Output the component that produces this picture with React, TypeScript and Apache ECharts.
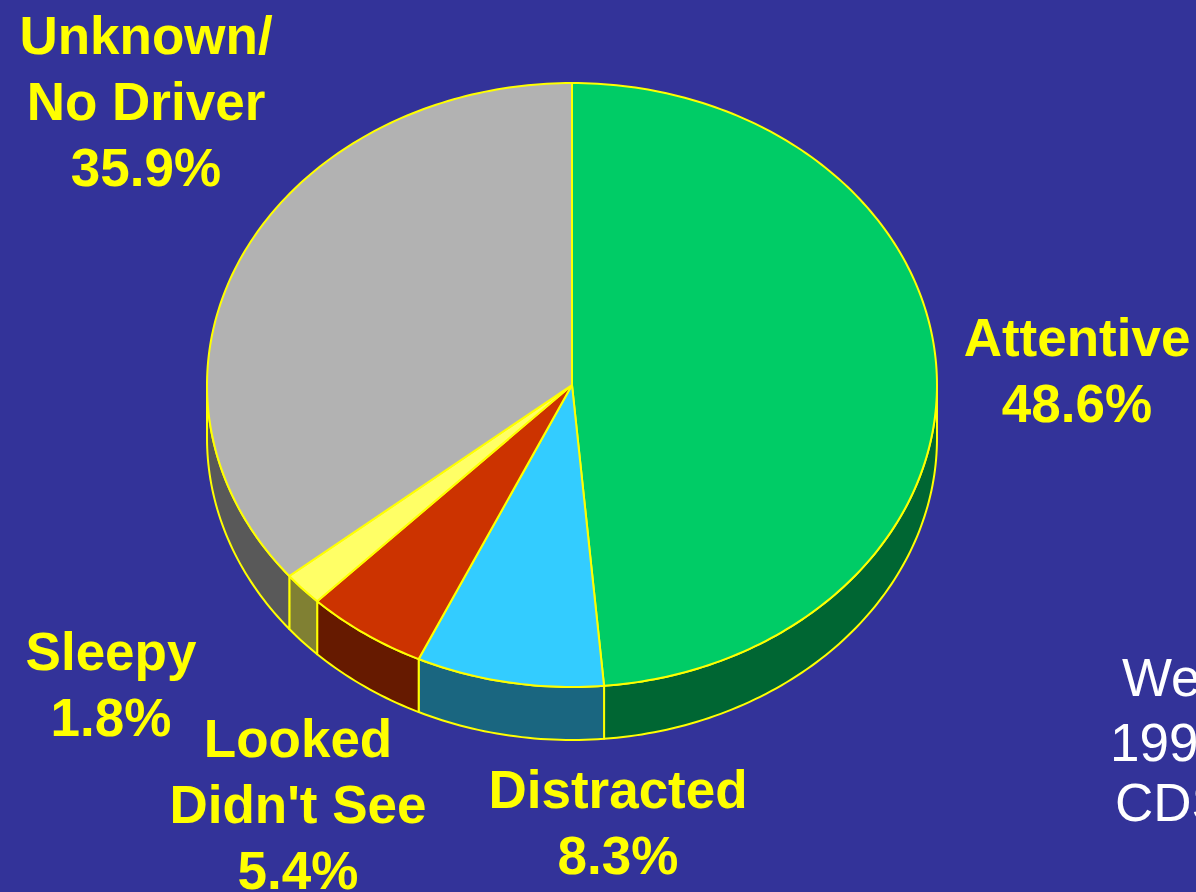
import React, { useEffect, useRef } from "react";
import * as echarts from "echarts";

// ---- data ----
const categories = ["Attentive", "Distracted", "Looked\nDidn't See", "Sleepy", "Unknown/\nNo Driver"];
const shares = [48.6, 8.3, 5.4, 1.8, 35.9];
const noteLines = ["We", "199", "CDS"];

// ---- styles / layout ----
const topColors = ["#00CC66", "#33CCFF", "#CC3300", "#FFFF66", "#B2B2B2"];
const sideColors = ["#006633", "#1A6680", "#661A00", "#808033", "#595959"];
const labelCenters: number[][] = [
  [1077, 370],
  [618, 822],
  [298, 804],
  [111, 684],
  [146, 101],
];
const notePos: number[][] = [
  [1122, 677],
  [1110, 742],
  [1115, 802],
];
const CX = 572;
const CY = 385;
const RX = 365;
const RY = 302;
const DEPTH = 53;
const EDGE = "#FFFF00";

export default function App() {
  const ref = useRef<HTMLDivElement>(null);

  useEffect(() => {
    if (!ref.current) return;
    const chart = echarts.init(ref.current, undefined, { renderer: "svg" });
    const total = shares.reduce((a, b) => a + b, 0);
    let acc = 0;
    const data = shares.map((v, i) => {
      const d = { name: categories[i], value: [v, acc] };
      acc += v;
      return d;
    });

    const pt = (a: number, dy = 0) => [CX + RX * Math.sin(a), CY - RY * Math.cos(a) + dy];

    const renderItem = (params: any, api: any) => {
      const i = params.dataIndex;
      const value = api.value(0) as number;
      const start = api.value(1) as number;
      const a0 = (start / total) * Math.PI * 2;
      const a1 = ((start + value) / total) * Math.PI * 2;
      const children: any[] = [];
      const s0 = Math.max(a0, Math.PI / 2);
      const s1 = Math.min(a1, (Math.PI * 3) / 2);
      if (s1 > s0) {
        const n = Math.max(2, Math.ceil(((s1 - s0) * 180) / Math.PI));
        const up: number[][] = [];
        const down: number[][] = [];
        for (let k = 0; k <= n; k++) {
          const a = s0 + ((s1 - s0) * k) / n;
          up.push(pt(a));
          down.push(pt(a, DEPTH));
        }
        children.push({
          type: "polygon",
          shape: { points: up.concat(down.reverse()) },
          style: { fill: sideColors[i], stroke: EDGE, lineWidth: 2, lineJoin: "round" },
        });
      }
      const n = Math.max(2, Math.ceil(((a1 - a0) * 180) / Math.PI));
      const top: number[][] = [[CX, CY]];
      for (let k = 0; k <= n; k++) top.push(pt(a0 + ((a1 - a0) * k) / n));
      children.push({
        type: "polygon",
        shape: { points: top },
        style: { fill: topColors[i], stroke: EDGE, lineWidth: 2, lineJoin: "round" },
      });
      return { type: "group", children };
    };

    const labelFont = 'bold 53px "Liberation Sans", Arial, sans-serif';
    const graphics: any[] = data.map((d, i) => ({
      type: "text",
      x: labelCenters[i][0],
      y: labelCenters[i][1],
      silent: true,
      style: {
        text: `${categories[i]}\n${shares[i].toFixed(1)}%`,
        fill: "#FFFF00",
        font: labelFont,
        lineHeight: 66,
        align: "center",
        verticalAlign: "middle",
      },
    }));
    noteLines.forEach((t, i) => {
      graphics.push({
        type: "text",
        x: notePos[i][0],
        y: notePos[i][1],
        silent: true,
        style: {
          text: t,
          fill: "#FFFFFF",
          font: '53px "Liberation Sans", Arial, sans-serif',
          align: "left",
          verticalAlign: "middle",
        },
      });
    });

    chart.setOption({
      animation: false,
      backgroundColor: "#333399",
      series: [
        {
          type: "custom",
          coordinateSystem: "none",
          renderItem,
          data,
          silent: true,
        },
      ],
      graphic: graphics,
    });
    return () => chart.dispose();
  }, []);

  return (
    <div
      ref={ref}
      style={{ position: "fixed", left: 0, top: 0, width: 1196, height: 892, overflow: "hidden" }}
    />
  );
}
